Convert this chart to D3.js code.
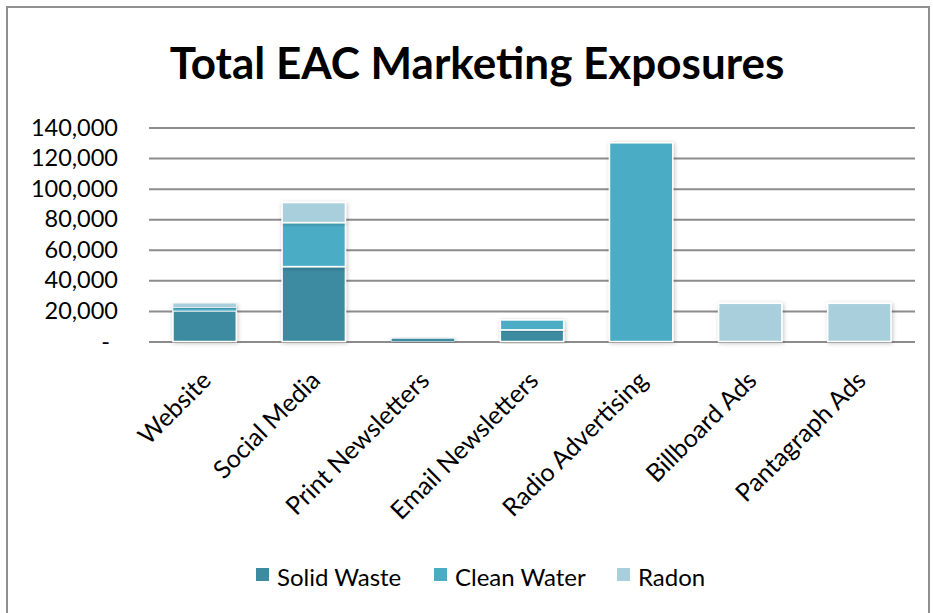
<!DOCTYPE html>
<html><head><meta charset="utf-8">
<script src="https://cdn.jsdelivr.net/npm/d3@7"></script>
<style>
html,body{margin:0;padding:0;background:#fff;}
svg{display:block;font-family:Lato,"Open Sans",sans-serif;}
</style></head>
<body>
<svg id="chart" width="933" height="613"></svg>
<script>
const categories = ["Website","Social Media","Print Newsletters","Email Newsletters","Radio Advertising","Billboard Ads","Pantagraph Ads"];
const seriesNames = ["Solid Waste","Clean Water","Radon"];
const solidWaste = [20000, 49000, 2000, 7600, 0, 0, 0];
const cleanWater = [2200, 28800, 0, 6500, 130000, 0, 0];
const radon = [2900, 13100, 0, 0, 0, 25000, 25000];
const colors = ["#3c8ba1","#4bacc6","#aacfdc"];
const yTicks = [0,20000,40000,60000,80000,100000,120000,140000];
const title = "Total EAC Marketing Exposures";

const svg = d3.select("#chart");
const W = 933, H = 613;
const m = {left:149, right:18, top:127, bottom:272};
const x = d3.scaleBand().domain(categories).range([m.left, W-m.right]).paddingInner(0.42).paddingOuter(0.22);
const y = d3.scaleLinear().domain([0,140000]).range([341.5, 127.5]);

const defs = svg.append("defs");
const f = defs.append("filter").attr("id","sh").attr("x","-20%").attr("y","-20%").attr("width","140%").attr("height","140%");
f.append("feDropShadow").attr("dx",1).attr("dy",1).attr("stdDeviation",2).attr("flood-color","#000").attr("flood-opacity",0.25);

// frame
svg.append("rect").attr("x",7).attr("y",7).attr("width",922).attr("height",620)
  .attr("fill","none").attr("stroke","#8f8f8f").attr("stroke-width",2);

// title
svg.append("text").attr("x",477).attr("y",79).attr("text-anchor","middle")
  .attr("font-weight","bold").attr("font-size",44).attr("fill","#000").text(title);

// grid
const yAxis = d3.axisLeft(y).tickValues(yTicks).tickSize(-(W-m.right-m.left)).tickPadding(31)
  .tickFormat(d => d===0 ? "-" : d3.format(",")(d));
const ga = svg.append("g").attr("transform",`translate(${m.left},0)`).call(yAxis);
ga.select(".domain").remove();
ga.selectAll(".tick line").attr("stroke","#8c8c8c").attr("stroke-width",2);
ga.selectAll(".tick text").attr("font-size",23.5).attr("fill","#000").attr("font-family","Lato");
ga.selectAll(".tick text").filter(d=>d===0).attr("dx",-8);

// stacked bars
const rows = categories.map((c,i)=>({cat:c, "Solid Waste":solidWaste[i], "Clean Water":cleanWater[i], "Radon":radon[i]}));
const stack = d3.stack().keys(seriesNames)(rows);
const gb = svg.append("g");
stack.forEach((s,si)=>{
  gb.selectAll(null).data(s.filter(d=>d[1]-d[0]>0)).enter().append("rect")
    .attr("x",d=>x(d.data.cat)).attr("width",x.bandwidth())
    .attr("y",d=>y(d[1])).attr("height",d=>y(d[0])-y(d[1]))
    .attr("fill",colors[si]).attr("stroke","#fff").attr("stroke-width",d=>(y(d[0])-y(d[1]))<5?0.5:1.5)
    .attr("filter","url(#sh)");
});

// x labels
const gx = svg.append("g");
categories.forEach(c=>{
  const cx = x(c)+x.bandwidth()/2+8, cy = 382;
  gx.append("text").attr("transform",`translate(${cx},${cy}) rotate(-45)`)
    .attr("text-anchor","end").attr("font-size",25).attr("fill","#000").text(c);
});

// legend
const legX = [256, 434, 617];
const gl = svg.append("g");
seriesNames.forEach((n,i)=>{
  gl.append("rect").attr("x",legX[i]).attr("y",568).attr("width",13).attr("height",13).attr("fill",colors[i]);
  gl.append("text").attr("x",legX[i]+21).attr("y",586).attr("font-size",24).attr("fill","#000").text(n);
});
</script>
</body></html>
